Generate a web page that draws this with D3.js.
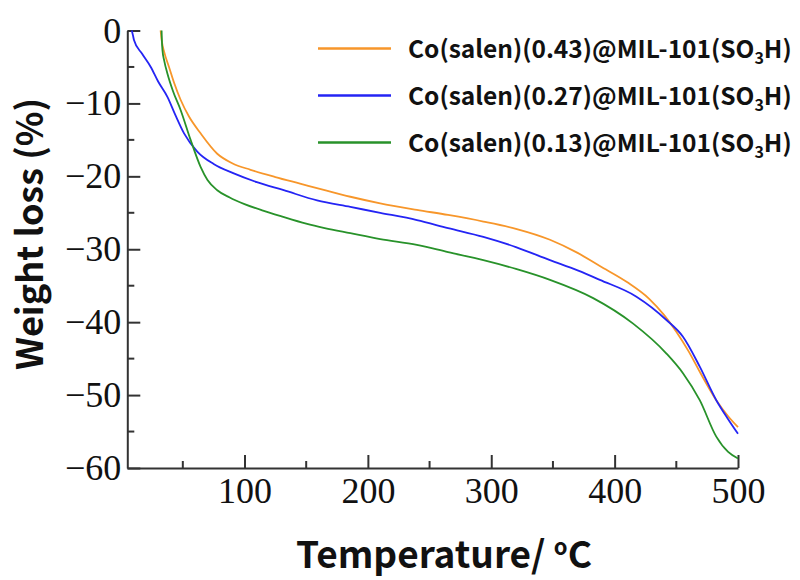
<!DOCTYPE html>
<html>
<head>
<meta charset="utf-8">
<script src="https://cdn.jsdelivr.net/npm/d3@7"></script>
<style>
  body { margin: 0; background: #fff; }
  svg { display: block; }
</style>
</head>
<body>
<div id="chart"></div>
<script>
const seriesNames = ["Co(salen)(0.43)@MIL-101(SO", "Co(salen)(0.27)@MIL-101(SO", "Co(salen)(0.13)@MIL-101(SO"];
const seriesColors = ["#f7962a", "#2424f4", "#28922a"];

// temperature (°C), weight loss (%)
const orangeT = [32, 33, 35, 38.8, 43, 48.2, 55, 64.4, 77.9, 90, 104.9, 125, 145, 165, 185.8, 210, 239.7, 265, 293.6, 320, 347.6, 370, 388, 410, 428, 440, 450, 460, 469, 482.4, 492, 500];
const orangeW = [0, -1.5, -3, -5, -7.2, -9.5, -11.8, -14.1, -16.9, -18.2, -19.1, -20.1, -21, -21.9, -22.8, -23.7, -24.6, -25.3, -26.2, -27.2, -28.7, -30.5, -32.3, -34.5, -36.8, -39, -41.3, -44, -46.8, -50.7, -52.9, -54.4];

const blueT = [8.6, 9.5, 10.4, 17, 24, 30, 37.5, 44, 51, 61.7, 75, 91.3, 110, 131.8, 158.8, 185.8, 210, 239.7, 265, 293.6, 320, 347.6, 370, 388, 417.7, 442, 455.4, 469, 482.4, 492, 500];
const blueW = [0, -0.6, -1.3, -3.2, -5, -7, -9.1, -11.6, -14.1, -16.6, -18.3, -19.6, -20.8, -21.9, -23.3, -24.2, -25, -26, -27.1, -28.3, -29.7, -31.5, -32.9, -34.2, -36.5, -39.7, -42, -46.1, -50.7, -53.3, -55.3];

const greenT = [32.8, 33, 33.5, 35, 37.5, 42, 48.2, 56.3, 64.4, 70, 77.9, 88, 100, 115, 130, 150, 165, 185.8, 210, 239.7, 265, 293.6, 320, 347.6, 382.6, 415, 442, 455.4, 469, 482.4, 492, 500];
const greenW = [0, -1.2, -2.7, -4.2, -5.9, -8.3, -10.9, -15, -18.7, -20.5, -21.9, -22.9, -23.8, -24.7, -25.5, -26.5, -27.1, -27.8, -28.6, -29.4, -30.4, -31.5, -32.7, -34.2, -36.7, -40.2, -44.3, -47, -50.7, -55.7, -57.8, -58.7];

const xTicks = [100, 200, 300, 400, 500];
const xMinor = [50, 150, 250, 350, 450];
const yTicks = [0, -10, -20, -30, -40, -50, -60];
const yMinor = [-5, -15, -25, -35, -45, -55];

const series = [
  {t: orangeT, w: orangeW},
  {t: blueT, w: blueW},
  {t: greenT, w: greenW}
];

const width = 800, height = 580;
const margin = {top: 30.5, right: 62, bottom: 112, left: 127.3};
const innerW = width - margin.left - margin.right,
      innerH = height - margin.top - margin.bottom;

const svg = d3.select("#chart").append("svg")
    .attr("width", width)
    .attr("height", height);

const g = svg.append("g")
    .attr("transform", "translate(" + margin.left + "," + margin.top + ")");

const x = d3.scaleLinear().domain([5, 500]).range([0, innerW]);
const y = d3.scaleLinear().domain([0, -60]).range([0, innerH]);

const axisColor = "#333";

// x axis, ticks pointing inward
const xAxis = g.append("g")
    .attr("transform", "translate(0," + innerH + ")")
    .call(d3.axisBottom(x).tickValues(xTicks).tickSize(-13).tickPadding(9).tickSizeOuter(0));
xAxis.append("g").selectAll("line")
    .data(xMinor)
    .enter()
    .append("line")
    .attr("x1", d => x(d)).attr("x2", d => x(d))
    .attr("y1", 0).attr("y2", -7);

const yAxis = g.append("g")
    .call(d3.axisLeft(y).tickValues(yTicks).tickSize(-13).tickPadding(6).tickSizeOuter(0));
yAxis.append("g").selectAll("line")
    .data(yMinor)
    .enter()
    .append("line")
    .attr("x1", 0).attr("x2", 7)
    .attr("y1", d => y(d)).attr("y2", d => y(d));

[xAxis, yAxis].forEach(function (a) {
    a.selectAll("path").attr("stroke", axisColor).attr("stroke-width", 2);
    a.selectAll("line").attr("stroke", axisColor).attr("stroke-width", 2);
    a.selectAll("text")
        .attr("fill", "#111")
        .style("font-family", "'Liberation Serif', 'Times New Roman', serif")
        .style("font-size", "36px");
});
xAxis.selectAll(".tick text").attr("dy", "0.71em");

const line = d3.line()
    .x(d => x(d[0]))
    .y(d => y(d[1]))
    .curve(d3.curveMonotoneX);

series.forEach(function (s, i) {
    g.append("path")
        .datum(s.t.map((t, k) => [t, s.w[k]]))
        .attr("fill", "none")
        .attr("stroke", seriesColors[i])
        .attr("stroke-width", 1.8)
        .attr("d", line);
});

// legend
const legendFont = "'Noto Sans CJK JP', 'Noto Sans', sans-serif";
const legend = svg.append("g");
seriesNames.forEach(function (name, i) {
    const ly = 48.5 + i * 47;
    legend.append("line")
        .attr("x1", 318).attr("x2", 391)
        .attr("y1", ly).attr("y2", ly)
        .attr("stroke", seriesColors[i])
        .attr("stroke-width", 2.5);
    const txt = legend.append("text")
        .attr("x", 408).attr("y", ly + 9.5)
        .style("font-family", legendFont)
        .style("font-size", "24.5px")
        .style("font-weight", "600")
        .attr("fill", "#111");
    txt.append("tspan").text(name);
    txt.append("tspan").attr("dy", 6).style("font-size", "16px").text("3");
    txt.append("tspan").attr("dy", -6).text("H)");
});

// axis titles
svg.append("text")
    .attr("transform", "translate(43,234) rotate(-90)")
    .attr("text-anchor", "middle")
    .style("font-family", legendFont)
    .style("font-weight", "bold")
    .style("font-size", "36px")
    .attr("fill", "#111")
    .text("Weight loss (%)");

const xt = svg.append("text")
    .attr("x", 444).attr("y", 568)
    .attr("text-anchor", "middle")
    .style("font-family", legendFont)
    .style("font-weight", "bold")
    .style("font-size", "37px")
    .attr("fill", "#111");
xt.append("tspan").text("Temperature/ ");
xt.append("tspan").attr("dy", -13).style("font-size", "22px").text("o");
xt.append("tspan").attr("dy", 13).text("C");
</script>
</body>
</html>
